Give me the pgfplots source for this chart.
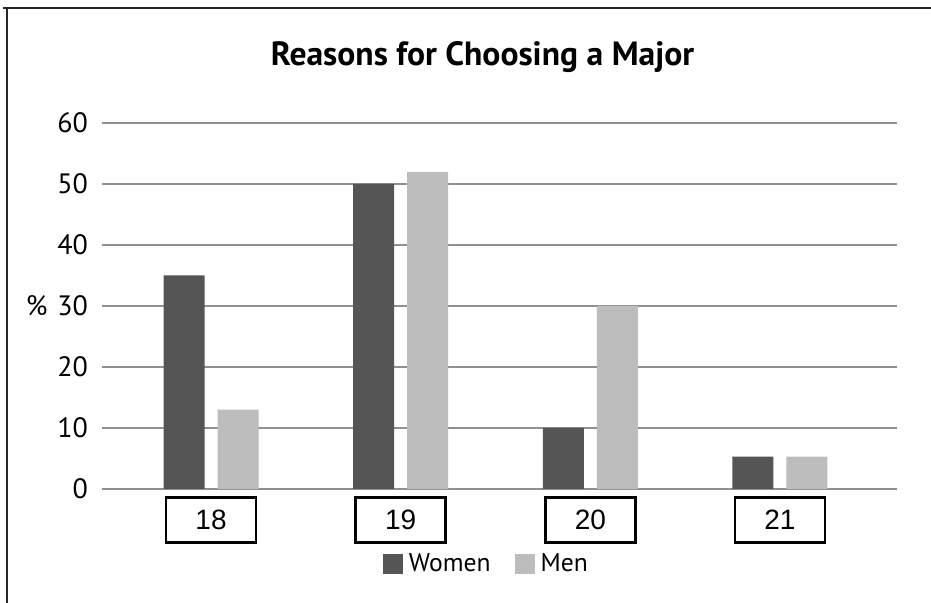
\documentclass[border=0pt]{standalone}
\usepackage{pgfplots}
\pgfplotsset{compat=1.18}
\usepackage{fontspec}
\setmainfont{PT Sans}
\newfontfamily\arialfont{Liberation Sans}
\definecolor{women}{HTML}{555555}
\definecolor{men}{HTML}{BDBDBD}
\definecolor{gridc}{HTML}{909090}
\begin{document}
\begin{tikzpicture}
\useasboundingbox (0,0) rectangle (465.5pt,301.5pt);
\draw[line width=1pt, black!85] (3.5pt,0pt) -- (3.5pt,297.5pt);
\draw[line width=1.2pt, black!85] (1.5pt,297.5pt) -- (465.5pt,297.5pt);
\begin{axis}[
  at={(51pt,57pt)}, anchor=south west,
  scale only axis, width=397.5pt, height=183pt,
  xmin=-0.575, xmax=3.617, ymin=0, ymax=60,
  clip=false,
  ybar, bar width=20.5pt,
  axis line style={draw=none},
  major tick length=0pt,
  ytick={0,10,...,60},
  ymajorgrids, grid style={gridc, line width=0.7pt},
  xtick={0,1,2,3},
  xticklabels={18,19,20,21},
  xticklabel style={font=\arialfont\fontsize{14}{16}\selectfont, draw=black, line width=1.4pt, minimum width=45pt, minimum height=22.5pt, inner sep=0pt, anchor=north},
  xticklabel shift=3.5pt,
  yticklabel style={font=\fontsize{14}{16}\selectfont},
  yticklabel shift=3.5pt,
  /pgf/number format/assume math mode=true,
  legend style={draw=none, at={(0.486,-0.205)}, anchor=center, legend columns=2, font=\fontsize{12.8}{14}\selectfont, /tikz/every even column/.append style={column sep=9pt}, nodes={inner xsep=3pt}},
  legend image code/.code={\fill[#1] (0pt,-5pt) rectangle (10pt,5pt);},
]
\addplot[fill=women, draw=none, bar shift=-13.5pt] coordinates {(0,35) (1,50) (2,10) (3,5.3)};
\addplot[fill=men, draw=none, bar shift=13.5pt] coordinates {(0,13) (1,52) (2,30) (3,5.3)};
\legend{Women, Men}
\node[anchor=east, inner sep=0pt, font=\fontsize{14}{16}\selectfont] at (axis cs:-0.575,30) [xshift=-27pt] {\%};
\end{axis}
\node[font=\bfseries\fontsize{16.8}{19}\selectfont] at (241.25pt,273pt) {Reasons for Choosing a Major};
\end{tikzpicture}
\end{document}
